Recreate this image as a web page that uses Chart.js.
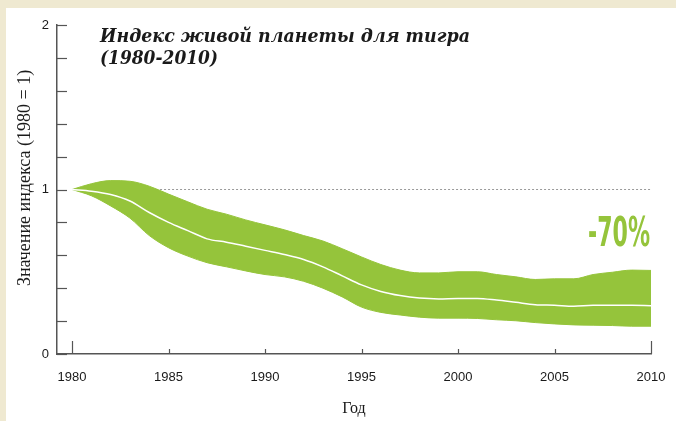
<!DOCTYPE html>
<html>
<head>
<meta charset="utf-8">
<script src="https://cdn.jsdelivr.net/npm/chart.js@4.4.1/dist/chart.umd.min.js"></script>
<style>
    html, body { margin: 0; padding: 0; background: #efe9d1; }
    #wrap { position: relative; width: 676px; height: 421px; overflow: hidden; }
    #panel { position: absolute; left: 6px; top: 8px; right: 0; bottom: 0; background: #fff; }
    #chart { position: absolute; left: 0; top: 0; }
</style>
</head>
<body>
<div id="wrap">
    <div id="panel"></div>
    <canvas id="chart" width="676" height="421"></canvas>
</div>
<script>
// LPI for the tiger, 1980-2010
const years = [1980, 1981, 1982, 1983, 1984, 1985, 1986, 1987, 1988, 1989, 1990,
    1991, 1992, 1993, 1994, 1995, 1996, 1997, 1998, 1999, 2000,
    2001, 2002, 2003, 2004, 2005, 2006, 2007, 2008, 2009, 2010];
const indexMid = [1.0, 0.99, 0.97, 0.93, 0.86, 0.80, 0.75, 0.70, 0.68, 0.655, 0.63,
    0.605, 0.575, 0.53, 0.475, 0.42, 0.38, 0.355, 0.34, 0.335, 0.338,
    0.338, 0.328, 0.314, 0.30, 0.296, 0.29, 0.296, 0.296, 0.296, 0.294];
const indexUpper = [1.0, 1.035, 1.054, 1.05, 1.02, 0.972, 0.925, 0.88, 0.85, 0.815, 0.785,
    0.755, 0.72, 0.687, 0.64, 0.59, 0.544, 0.51, 0.493, 0.493, 0.50,
    0.50, 0.483, 0.469, 0.453, 0.457, 0.457, 0.483, 0.497, 0.51, 0.508];
const indexLower = [1.0, 0.962, 0.90, 0.826, 0.72, 0.646, 0.595, 0.555, 0.53, 0.505, 0.483,
    0.469, 0.442, 0.40, 0.347, 0.285, 0.253, 0.237, 0.224, 0.218, 0.218,
    0.216, 0.208, 0.202, 0.191, 0.183, 0.177, 0.175, 0.173, 0.169, 0.169];
const xTickYears = [1980, 1985, 1990, 1995, 2000, 2005, 2010];
const baseline = [1, 1];
const baselineYears = [1980, 2010];

const titleLines = ['Индекс живой планеты для тигра', '(1980-2010)'];
const yTitle = 'Значение индекса (1980 = 1)';
const changeLabel = '-70%';

const GREEN = '#95c43b';
const AXIS = '#555';
const TEXT = '#1a1a1a';

function pts(xs, ys) {
    return xs.map((x, i) => ({ x: x, y: ys[i] }));
}

// draws ticks pointing into the plot, the titles and the -70% label
const decorPlugin = {
    id: 'decor',
    afterDraw(chart) {
        const ctx = chart.ctx;
        const xs = chart.scales.x;
        const ys = chart.scales.y;
        const area = chart.chartArea;
        ctx.save();
        ctx.strokeStyle = AXIS;
        ctx.lineWidth = 1.2;
        ys.ticks.forEach(t => {
            const py = Math.round(ys.getPixelForValue(t.value)) + 0.5;
            ctx.beginPath();
            ctx.moveTo(area.left, py);
            ctx.lineTo(area.left + 10, py);
            ctx.stroke();
        });
        xs.ticks.forEach((t, i) => {
            const px = Math.round(xs.getPixelForValue(t.value)) + 0.5;
            const len = (i === 0 || i === xs.ticks.length - 1) ? 13 : 5;
            ctx.beginPath();
            ctx.moveTo(px, area.bottom);
            ctx.lineTo(px, area.bottom - len);
            ctx.stroke();
        });

        // title
        ctx.fillStyle = TEXT;
        ctx.font = 'italic bold 18px "DejaVu Serif"';
        ctx.textBaseline = 'alphabetic';
        ctx.textAlign = 'left';
        const tx = area.left + 43;
        titleLines.forEach((line, i) => {
            const w = ctx.measureText(line).width;
            const target = i === 0 ? 370 : 118;
            const k = Math.min(1, target / w);
            ctx.save();
            ctx.translate(tx, area.top + 17 + i * 22);
            ctx.scale(k, 1);
            ctx.fillText(line, 0, 0);
            ctx.restore();
        });

        // y axis title
        ctx.save();
        ctx.font = '18px "Liberation Serif", serif';
        ctx.textAlign = 'center';
        ctx.textBaseline = 'middle';
        ctx.translate(25, ys.getPixelForValue(1.07));
        ctx.rotate(-Math.PI / 2);
        ctx.fillText(yTitle, 0, 0);
        ctx.restore();

        // -70%
        ctx.fillStyle = GREEN;
        ctx.font = 'bold 40px "Liberation Sans Narrow", "DejaVu Sans Condensed", sans-serif';
        const w = ctx.measureText(changeLabel).width;
        const k = 62 / w;
        const right = xs.getPixelForValue(2010) - 1;
        ctx.save();
        ctx.translate(right - 62, ys.getPixelForValue(0.655));
        ctx.scale(k, 1);
        ctx.fillText(changeLabel, 0, 0);
        ctx.restore();
        ctx.restore();
    }
};

new Chart(document.getElementById('chart'), {
    type: 'line',
    data: {
        datasets: [
            {
                label: 'Середина',
                data: pts(years, indexMid),
                borderColor: '#ffffff',
                borderWidth: 1.5,
                pointRadius: 0,
                fill: false,
                cubicInterpolationMode: 'monotone',
                order: 1
            },
            {
                label: 'Верхняя граница',
                data: pts(years, indexUpper),
                borderColor: GREEN,
                borderWidth: 1,
                backgroundColor: GREEN,
                pointRadius: 0,
                fill: 2,
                cubicInterpolationMode: 'monotone',
                order: 2
            },
            {
                label: 'Нижняя граница',
                data: pts(years, indexLower),
                borderColor: GREEN,
                borderWidth: 1,
                pointRadius: 0,
                fill: false,
                cubicInterpolationMode: 'monotone',
                order: 3
            },
            {
                label: '1980 = 1',
                data: pts(baselineYears, baseline),
                borderColor: '#9a9a9a',
                borderWidth: 1,
                borderDash: [2, 2],
                pointRadius: 0,
                fill: false,
                order: 4
            }
        ]
    },
    options: {
        responsive: false,
        animation: false,
        devicePixelRatio: 1,
        layout: { padding: { left: 0, top: 25, right: 25, bottom: 0 } },
        plugins: {
            legend: { display: false },
            tooltip: { enabled: false }
        },
        scales: {
            x: {
                type: 'linear',
                min: 1979.22,
                max: 2010,
                afterBuildTicks: scale => {
                    scale.ticks = xTickYears.map(v => ({ value: v }));
                },
                afterFit: scale => {
                    scale.height = 67;
                    scale.paddingLeft = 0;
                    scale.paddingRight = 0;
                },
                border: { display: true, color: AXIS, width: 1.5 },
                grid: { display: false, drawTicks: false },
                ticks: {
                    padding: 16,
                    color: TEXT,
                    font: { family: '"Liberation Sans", Arial, sans-serif', size: 13 },
                    maxRotation: 0,
                    callback: v => String(v)
                },
                title: {
                    display: true,
                    text: 'Год',
                    color: TEXT,
                    font: { family: '"Liberation Serif", serif', size: 16 },
                    padding: { top: 0, bottom: 3 }
                }
            },
            y: {
                min: 0,
                max: 2,
                afterFit: scale => {
                    scale.width = 57;
                    scale.paddingTop = 0;
                    scale.paddingBottom = 0;
                },
                border: { display: true, color: AXIS, width: 1.5 },
                grid: { display: false, drawTicks: false },
                ticks: {
                    stepSize: 0.2,
                    padding: 8,
                    color: TEXT,
                    font: { family: '"Liberation Sans", Arial, sans-serif', size: 13 },
                    callback: v => (Math.abs(v - Math.round(v)) < 1e-6 ? String(Math.round(v)) : '')
                }
            }
        }
    },
    plugins: [decorPlugin]
});
</script>
</body>
</html>
